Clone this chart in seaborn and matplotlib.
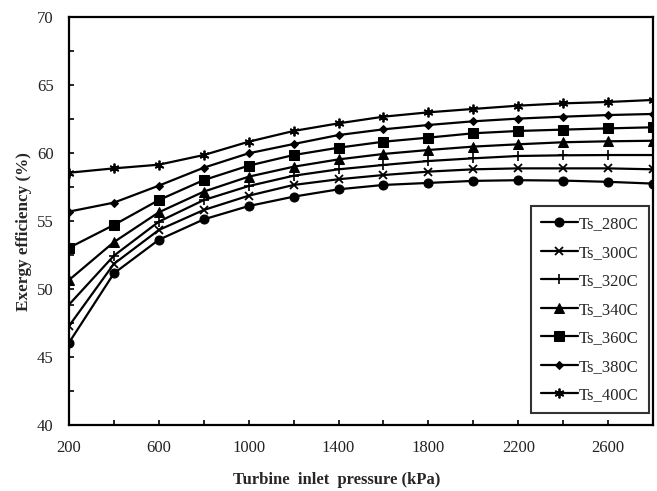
import numpy as np
import pandas as pd
import matplotlib
matplotlib.use("Agg")
import matplotlib.pyplot as plt
from matplotlib.ticker import MultipleLocator, FixedLocator
import seaborn as sns

# Turbine inlet pressure (kPa)
pressure = [200, 400, 600, 800, 1000, 1200, 1400, 1600, 1800, 2000, 2200, 2400, 2600, 2800]

# Exergy efficiency (%) per source temperature
ts_280 = [46.05, 51.15, 53.62, 55.12, 56.10, 56.79, 57.33, 57.65, 57.80, 57.95, 58.00, 57.97, 57.88, 57.75]
ts_300 = [47.28, 51.85, 54.34, 55.81, 56.86, 57.65, 58.07, 58.38, 58.63, 58.80, 58.87, 58.87, 58.87, 58.80]
ts_320 = [48.85, 52.45, 54.95, 56.54, 57.57, 58.33, 58.80, 59.12, 59.41, 59.61, 59.78, 59.83, 59.85, 59.85]
ts_340 = [50.66, 53.45, 55.64, 57.16, 58.26, 58.99, 59.53, 59.93, 60.22, 60.47, 60.64, 60.79, 60.86, 60.90]
ts_360 = [53.03, 54.71, 56.54, 58.01, 59.07, 59.85, 60.39, 60.83, 61.13, 61.45, 61.62, 61.72, 61.81, 61.89]
ts_380 = [55.69, 56.35, 57.60, 58.92, 59.98, 60.66, 61.32, 61.74, 62.06, 62.33, 62.53, 62.67, 62.79, 62.87]
ts_400 = [58.55, 58.87, 59.14, 59.85, 60.83, 61.62, 62.18, 62.67, 62.99, 63.24, 63.48, 63.65, 63.75, 63.90]

series_names = ["Ts_280C", "Ts_300C", "Ts_320C", "Ts_340C", "Ts_360C", "Ts_380C", "Ts_400C"]
series_values = [ts_280, ts_300, ts_320, ts_340, ts_360, ts_380, ts_400]

x_ticklabels = [200, 600, 1000, 1400, 1800, 2200, 2600]
y_ticklabels = [40, 45, 50, 55, 60, 65, 70]

frames = [pd.DataFrame({"pressure": pressure, "efficiency": vals, "series": name})
          for name, vals in zip(series_names, series_values)]
df = pd.concat(frames, ignore_index=True)

sns.set_theme(style="white")
plt.rcParams["font.family"] = ["Liberation Serif", "DejaVu Serif"]
plt.rcParams["mathtext.fontset"] = "stix"

fig = plt.figure(figsize=(6.57, 4.91), dpi=100)
ax = fig.add_axes([0.105, 0.1344, 0.889, 0.831])

marker_styles = {
    "Ts_280C": dict(marker="o", markersize=6.5),
    "Ts_300C": dict(marker="x", markersize=6, markeredgewidth=1.3),
    "Ts_320C": dict(marker="+", markersize=7, markeredgewidth=1.2),
    "Ts_340C": dict(marker="^", markersize=6.5),
    "Ts_360C": dict(marker="s", markersize=6.5),
    "Ts_380C": dict(marker="D", markersize=4.5),
    "Ts_400C": dict(marker=(6, 2, 0), markersize=7, markeredgewidth=1.3),
}

for name in series_names:
    sub = df[df["series"] == name]
    sns.lineplot(data=sub, x="pressure", y="efficiency", ax=ax, color="black",
                 linewidth=1.6, label=name, markeredgecolor="black",
                 markerfacecolor="black", **marker_styles[name])

ax.set_xlim(200, 2800)
ax.set_ylim(40, 70)
ax.xaxis.set_major_locator(FixedLocator(x_ticklabels))
ax.xaxis.set_minor_locator(FixedLocator([400, 800, 1200, 1600, 2000, 2400]))
ax.yaxis.set_major_locator(FixedLocator(y_ticklabels))
ax.yaxis.set_minor_locator(MultipleLocator(2.5))
ax.set_xticklabels([str(v) for v in x_ticklabels])
ax.set_yticklabels([str(v) for v in y_ticklabels])

ax.tick_params(axis="both", which="both", direction="in", length=3.5, width=1.2,
               color="black", labelsize=12, labelcolor="#222222",
               bottom=True, left=True, top=False, right=False)
ax.tick_params(axis="x", which="major", pad=10.5)
ax.tick_params(axis="y", which="major", pad=11)

for sp in ax.spines.values():
    sp.set_color("black")
    sp.set_linewidth(1.6)

ax.set_xlabel("Turbine  inlet  pressure (kPa)", fontsize=12, fontweight="bold")
ax.set_ylabel("Exergy efficiency (%)", fontsize=12.3, fontweight="bold")
ax.xaxis.set_label_coords(0.458, -0.116)
ax.yaxis.set_label_coords(-0.064, 0.474)

leg = ax.legend(loc="lower right", bbox_to_anchor=(0.993, 0.029), frameon=True,
                fancybox=False, edgecolor="black", fontsize=12, handlelength=2.2,
                handletextpad=0.1, labelspacing=0.75, borderpad=0.6,
                borderaxespad=0)
leg.get_frame().set_linewidth(1.5)

fig.savefig("out.png", dpi=100)
